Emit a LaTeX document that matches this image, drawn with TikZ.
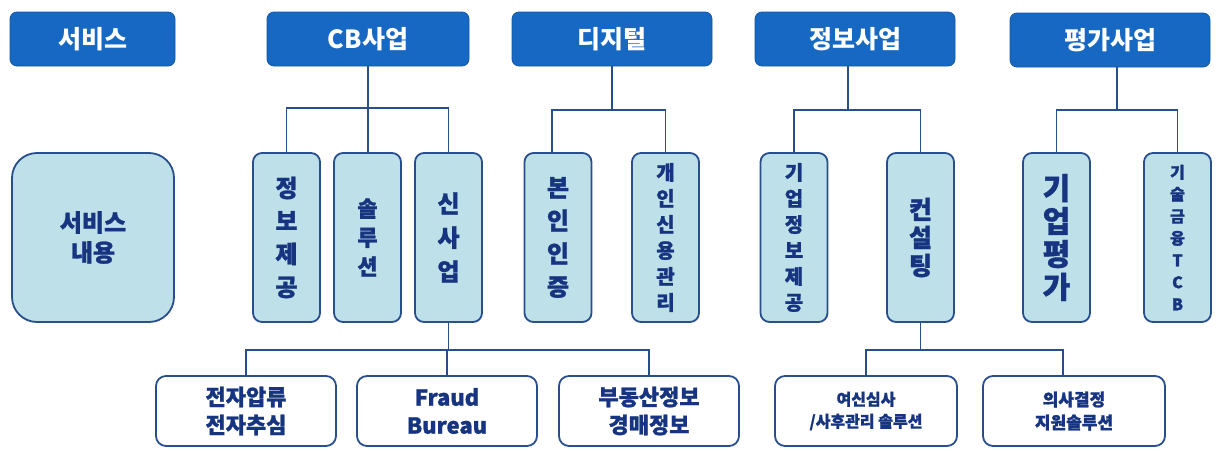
\documentclass[tikz,border=0pt]{standalone}
\usepackage{fontspec}
\setmainfont{Noto Sans CJK KR}
\newfontfamily\heavyfam{Noto Sans CJK KR}[FakeBold=1.2]
\newcommand\heavy{\heavyfam\bfseries}
\definecolor{topblue}{RGB}{22,104,194}
\definecolor{navy}{RGB}{40,78,140}
\definecolor{txt}{RGB}{22,52,128}
\definecolor{lightb}{RGB}{190,224,232}
\begin{document}
\begin{tikzpicture}[x=1pt,y=-1pt,
  top/.style={draw=topblue!85!black, line width=0.8pt, fill=topblue, rounded corners=7pt,
    text=white, font=\fontsize{25}{28}\selectfont\bfseries, minimum height=54pt, inner sep=0pt},
  mid/.style={draw=navy, line width=1.8pt, fill=lightb, rounded corners=9pt, text=txt,
    align=center, minimum height=169pt, minimum width=67pt, inner sep=0pt},
  bot/.style={draw=navy, line width=1.8pt, fill=white, rounded corners=10pt, text=txt,
    font=\fontsize{22}{28}\selectfont\heavy, align=center, minimum height=70pt,
    minimum width=180pt, inner sep=0pt},
  conn/.style={draw=navy, line width=1.6pt}]
\useasboundingbox (0,0) rectangle (1231,450);
% top row
\node[top, minimum width=165pt] (svc) at (92.5,39) {서비스};
\node[top, minimum width=202pt] (cb) at (368,39) {CB사업};
\node[top, minimum width=200pt] (dig) at (612,39) {디지털};
\node[top, minimum width=200pt] (info) at (855,39) {정보사업};
\node[top, minimum width=200pt] (eval) at (1110,40) {평가사업};
% middle row
\node[mid, minimum width=162pt, rounded corners=25pt, font=\fontsize{24}{30}\selectfont\heavy] (svcc) at (93,237.5) {서비스\\내용};
\node[mid, font=\fontsize{24}{33}\selectfont\heavy] (m1) at (286.5,237.5) {정\\보\\제\\공};
\node[mid, font=\fontsize{22}{29}\selectfont\heavy] (m2) at (367.5,237.5) {솔\\루\\션};
\node[mid, font=\fontsize{24}{34}\selectfont\heavy] (m3) at (448.5,237.5) {신\\사\\업};
\node[mid, font=\fontsize{24}{33}\selectfont\heavy] (m4) at (558,237.5) {본\\인\\인\\증};
\node[mid, font=\fontsize{20}{26}\selectfont\heavy] (m5) at (665.5,237.5) {개\\인\\신\\용\\관\\리};
\node[mid, font=\fontsize{20}{26}\selectfont\heavy] (m6) at (794,237.5) {기\\업\\정\\보\\제\\공};
\node[mid, font=\fontsize{25}{28}\selectfont\heavy] (m7) at (920.5,237.5) {컨\\설\\팅};
\node[mid, font=\fontsize{30}{33}\selectfont\heavy] (m8) at (1056.5,237.5) {기\\업\\평\\가};
\node[mid, font=\fontsize{16}{22}\selectfont\heavy] (m9) at (1177.5,237.5) {기\\술\\금\\융\\T\\C\\B};
% bottom row
\node[bot] (b1) at (246,411) {전자압류\\전자추심};
\node[bot] (b2) at (447,411) {Fraud\\Bureau};
\node[bot] (b3) at (649,411) {부동산정보\\경매정보};
\node[bot, minimum width=182pt, font=\fontsize{16}{22}\selectfont\heavy] (b4) at (866,411) {여신심사\\/사후관리 솔루션};
\node[bot, minimum width=182pt, font=\fontsize{17}{23}\selectfont\heavy] (b5) at (1074,411) {의사결정\\지원솔루션};
% connectors
\coordinate (y1) at (0,108);
\coordinate (y2) at (0,110);
\coordinate (y3) at (0,350);
\draw[conn] (cb.south) -- (cb.south |- m2.north);
\draw[conn] (m1.north) |- (m3.north |- y1) -- (m3.north);
\draw[conn] (dig.south) -- (dig.south |- y2);
\draw[conn] ([xshift=-6pt]m4.north) |- (m5.north |- y2) -- (m5.north);
\draw[conn] ([xshift=-7pt]info.south) -- ([xshift=-7pt]info.south |- y2);
\draw[conn] (m6.north) |- (m7.north |- y2) -- (m7.north);
\draw[conn] ([xshift=7pt]eval.south) -- ([xshift=7pt]eval.south |- y2);
\draw[conn] (m8.north) |- (m9.north |- y2) -- (m9.north);
\draw[conn] (m3.south) -- (m3.south |- y3);
\draw[conn] (b1.north) |- (b3.north |- y3) -- (b3.north);
\draw[conn] (b2.north) -- (b2.north |- y3);
\draw[conn] (m7.south) -- (m7.south |- y3);
\draw[conn] (b4.north) |- ([xshift=-11pt]b5.north |- y3) -- ([xshift=-11pt]b5.north);
\end{tikzpicture}
\end{document}
